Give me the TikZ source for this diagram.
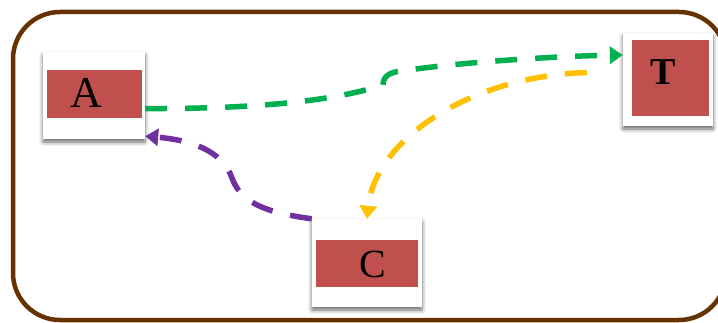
\documentclass[tikz,border=0pt]{standalone}
\usepackage{fontspec}
\setmainfont{Liberation Serif}
\usetikzlibrary{arrows.meta,shadows.blur}

\definecolor{framebrown}{HTML}{663300}
\definecolor{tagred}{HTML}{C0504D}
\definecolor{lgreen}{HTML}{00B050}
\definecolor{lyellow}{HTML}{FFC000}
\definecolor{lpurple}{HTML}{7030A0}

\begin{document}
\begin{tikzpicture}
	[x=1pt,y=-1pt,
	card/.style={rectangle, fill=white, inner sep=0pt,
		blur shadow={shadow xshift=0pt, shadow yshift=-3pt, shadow blur radius=4pt, shadow opacity=60}},
	tag/.style={rectangle, fill=tagred, inner sep=0pt},
	letter/.style={anchor=base, inner sep=0pt},
	link/.style={line width=5.5pt, dash pattern=on 22pt off 18pt, -{Triangle[length=13pt,width=17pt]}}]
	\useasboundingbox (0,0) rectangle (718,323);
	\draw[line width=4.5pt, framebrown, rounded corners=47pt] (13,12) rectangle (726,320);
	
	\node[card, minimum width=102pt, minimum height=87pt] (A) at (94,95.5) {};
	\node[tag, minimum width=95pt, minimum height=48pt] (Abox) at (94.5,94) {};
	\node[letter, font=\fontsize{44}{44}\selectfont] (Aname) at (86,108) {A};
	
	\node[card, minimum width=90pt, minimum height=93pt] (T) at (668,79.5) {};
	\node[tag, minimum width=77pt, minimum height=76pt] (Tbox) at (670.5,78) {};
	\node[letter, font=\fontsize{38}{38}\selectfont\bfseries] (Tname) at (663,85) {T};
	
	\node[card, minimum width=110pt, minimum height=88pt] (C) at (367,263) {};
	\node[tag, minimum width=102pt, minimum height=47pt] (Cbox) at (367,263.5) {};
	\node[letter, font=\fontsize{40}{40}\selectfont] (Cname) at (373,278) {C};
	
	\coordinate (Tout) at ([xshift=-36pt,yshift=7pt]T.west);
	
	\draw[link, lgreen] ([yshift=-13pt]A.east) .. controls (250,109) and (330,102) .. (383,85)
		.. controls (383,76) and (390,72) .. (402,71)
		.. controls (460,62) and (560,56) .. ([yshift=24.5pt]T.west);
	\draw[link, lyellow] (Tout) .. controls (470,76) and (375,140) .. (C.north);
	\draw[link, lpurple] (C.north west) .. controls (260,212) and (240,200) .. (232,178)
		.. controls (222,150) and (190,140) .. ([yshift=3pt]A.south east);
\end{tikzpicture}
\end{document}
